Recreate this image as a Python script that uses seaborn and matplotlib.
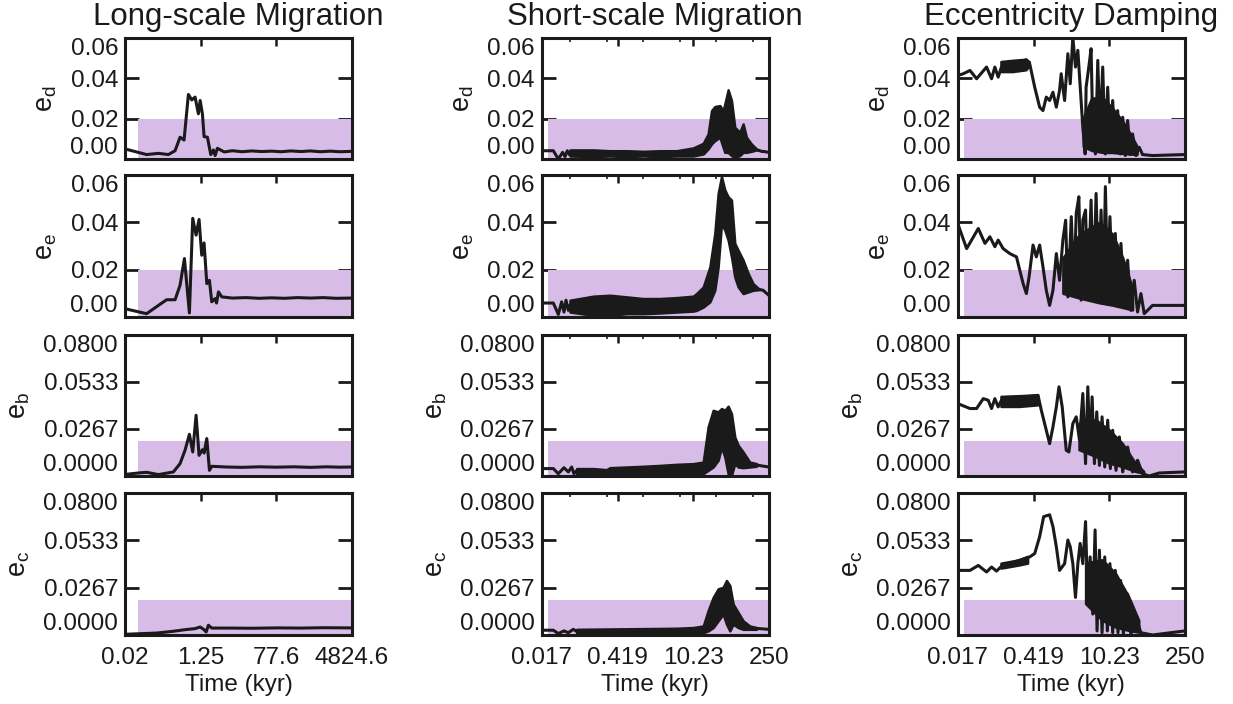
import numpy as np
import matplotlib
matplotlib.use('Agg')
import matplotlib.pyplot as plt
import matplotlib.ticker as mticker
import seaborn as sns

nan = np.nan

titles = ['Long-scale Migration', 'Short-scale Migration', 'Eccentricity Damping']
planets = ['d', 'e', 'b', 'c']
xlims = [(0.02, 4824.6), (0.017, 250), (0.017, 250)]
xtick_vals = [[0.02, 1.25, 77.6, 4824.6], [0.017, 0.419, 10.23, 250], [0.017, 0.419, 10.23, 250]]
xtick_labels = [['0.02', '1.25', '77.6', '4824.6'], ['0.017', '0.419', '10.23', '250'],
                ['0.017', '0.419', '10.23', '250']]
yticks_de = [0.0, 0.02, 0.04, 0.06]
ylabels_de = ['0.00', '0.02', '0.04', '0.06']
yticks_bc = [0.0, 0.0267, 0.0533, 0.08]
ylabels_bc = ['0.0000', '0.0267', '0.0533', '0.0800']
band_start = [0.04, 0.022, 0.022]
band_top = 0.02

# ---- long-scale migration ----
t_long_d = [0.020, 0.065, 0.124, 0.214, 0.308, 0.404, 0.503, 0.637, 0.765, 0.918, 1.10, 1.21, 1.37, 1.50,
            1.80, 2.16, 2.50, 2.74, 3.11, 4.5, 7.0, 12, 20, 35, 60, 100, 170, 300, 500, 850, 1500, 2500, 4824.6]
e_long_d = [0.0050, 0.0022, 0.0028, 0.0022, 0.0041, 0.0108, 0.0094, 0.0320, 0.0293, 0.0307, 0.0224, 0.0290,
            0.0224, 0.0111, 0.0108, 0.0022, 0.0045, 0.0017, 0.0053, 0.0035, 0.0041, 0.0036, 0.0040, 0.0037,
            0.0039, 0.0036, 0.0040, 0.0037, 0.0040, 0.0036, 0.0039, 0.0036, 0.0038]
t_long_e = [0.020, 0.065, 0.136, 0.195, 0.308, 0.404, 0.513, 0.673, 0.807, 0.97, 1.14, 1.32, 1.50, 1.74,
            2.01, 2.28, 2.74, 2.96, 3.29, 3.94, 7, 15, 30, 60, 120, 250, 500, 1000, 2000, 4824.6]
e_long_e = [0.0035, 0.0014, 0.0054, 0.0073, 0.0073, 0.0134, 0.0247, 0.0017, 0.0417, 0.0346, 0.0412, 0.0261,
            0.0313, 0.0141, 0.0155, 0.0064, 0.0078, 0.0059, 0.0106, 0.0085, 0.0080, 0.0082, 0.0079, 0.0081,
            0.0079, 0.0082, 0.0080, 0.0082, 0.0079, 0.0080]
t_long_b = [0.020, 0.0415, 0.065, 0.124, 0.281, 0.404, 0.531, 0.673, 0.807, 0.97, 1.14, 1.37, 1.50, 1.74,
            2.01, 2.28, 5, 12, 30, 80, 200, 500, 1200, 2500, 4824.6]
e_long_b = [0.0009, 0.0017, 0.0021, 0.0008, 0.0023, 0.0070, 0.0146, 0.0236, 0.0136, 0.0344, 0.0117, 0.0149,
            0.0130, 0.0212, 0.0032, 0.0055, 0.0051, 0.0049, 0.0052, 0.0050, 0.0052, 0.0049, 0.0052, 0.0050,
            0.0051]
t_long_c = [0.020, 0.113, 0.281, 0.531, 0.918, 1.21, 1.50, 1.68, 1.90, 2.28, 6, 20, 80, 300, 1000, 4824.6]
e_long_c = [0.0004, 0.0011, 0.0021, 0.0030, 0.0036, 0.0045, 0.0030, 0.0017, 0.0055, 0.0039, 0.0039, 0.0038,
            0.0040, 0.0039, 0.0041, 0.0040]

# ---- short-scale migration (line = head + tail, dense part as envelope) ----
t_short_d = [0.0170, 0.0278, 0.0343, 0.0412, 0.0455, 0.0502, 0.0547, 0.0562, 197, 250]
e_short_d = [0.0041, 0.0041, 0.0, 0.0033, 0.0012, 0.0041, 0.0022, 0.0030, 0.0038, 0.0033]
tb_short_d = [0.0562, 0.151, 0.304, 0.615, 1.24, 2.51, 5.08, 10.3, 15.7, 19.3, 22.3, 25.6, 31.7, 36.4, 39.1,
              45.0, 51.8, 59.6, 73.6, 84.8, 97.5, 120, 149, 197]
lo_short_d = [0.0015, 0.0012, 0.0015, 0.0012, 0.0015, 0.0012, 0.0015, 0.0015, 0.0025, 0.0050, 0.0075, 0.0091,
              0.0108, 0.0058, 0.0033, 0.0033, 0.0017, 0.0008, 0.0017, 0.0033, 0.0033, 0.0038, 0.0045, 0.0038]
hi_short_d = [0.0045, 0.0045, 0.0041, 0.0041, 0.0038, 0.0041, 0.0041, 0.0055, 0.0078, 0.0124, 0.0240, 0.0260,
              0.0265, 0.0240, 0.0273, 0.0343, 0.0290, 0.0157, 0.0133, 0.0174, 0.0108, 0.0075, 0.0050, 0.0038]

t_short_e = [0.0170, 0.0278, 0.0343, 0.0395, 0.0436, 0.0475, 0.0524, 0.0562, 171, 197, 250]
e_short_e = [0.0059, 0.0059, 0.0011, 0.0064, 0.0021, 0.0071, 0.0028, 0.0050, 0.0116, 0.0113, 0.0092]
tb_short_e = [0.0562, 0.151, 0.304, 0.615, 1.24, 2.51, 5.08, 10.3, 11.8, 15.7, 20.8, 25.6, 29.5, 34.0, 39.1,
              45.0, 51.8, 59.6, 68.7, 84.8, 105, 129, 171]
lo_short_e = [0.0021, 0.0007, 0.0007, 0.0014, 0.0014, 0.0017, 0.0021, 0.0025, 0.0028, 0.0042, 0.0064, 0.0113,
              0.0212, 0.0395, 0.0367, 0.0325, 0.0254, 0.0169, 0.0127, 0.0099, 0.0106, 0.0113, 0.0116]
hi_short_e = [0.0071, 0.0088, 0.0092, 0.0085, 0.0078, 0.0078, 0.0082, 0.0088, 0.0099, 0.0127, 0.0212, 0.0353,
              0.0522, 0.0593, 0.0537, 0.0508, 0.0494, 0.0311, 0.0282, 0.0240, 0.0184, 0.0141, 0.0116]

t_short_b = [0.0170, 0.0278, 0.0343, 0.0436, 0.0524, 0.0603, 0.0665, 0.0745, 149, 250]
e_short_b = [0.0042, 0.0042, 0.0013, 0.0047, 0.0023, 0.0051, 0.0013, 0.0030, 0.0062, 0.0051]
tb_short_b = [0.0745, 0.151, 0.264, 0.304, 0.615, 1.24, 2.51, 5.08, 10.3, 15.7, 19.3, 23.9, 29.5, 34.0, 39.1,
              45.0, 51.8, 59.6, 68.7, 84.8, 112, 149]
lo_short_b = [0.0013, 0.0009, 0.0, 0.0009, 0.0009, 0.0013, 0.0013, 0.0013, 0.0013, 0.0013, 0.0032, 0.0051,
              0.0089, 0.0164, 0.0108, 0.0013, 0.0004, 0.0070, 0.0051, 0.0047, 0.0051, 0.0055]
hi_short_b = [0.0042, 0.0042, 0.0036, 0.0047, 0.0051, 0.0055, 0.0060, 0.0066, 0.0070, 0.0079, 0.0278, 0.0372,
              0.0363, 0.0382, 0.0372, 0.0395, 0.0353, 0.0221, 0.0174, 0.0136, 0.0079, 0.0070]

t_short_c = [0.0170, 0.0278, 0.0343, 0.0436, 0.0524, 0.0647, 0.0745, 149, 250]
e_short_c = [0.0027, 0.0027, 0.0008, 0.0023, 0.0013, 0.0032, 0.0020, 0.0037, 0.0032]
tb_short_c = [0.0745, 0.304, 1.24, 5.08, 10.3, 15.7, 19.3, 23.9, 29.5, 36.4, 42.0, 48.3, 55.6, 68.7, 84.8,
              112, 149]
lo_short_c = [0.0008, 0.0008, 0.0011, 0.0013, 0.0013, 0.0013, 0.0023, 0.0042, 0.0080, 0.0118, 0.0061, 0.0023,
              0.0061, 0.0042, 0.0032, 0.0032, 0.0032]
hi_short_c = [0.0032, 0.0034, 0.0036, 0.0038, 0.0042, 0.0051, 0.0137, 0.0212, 0.0260, 0.0269, 0.0307, 0.0279,
              0.0174, 0.0127, 0.0080, 0.0051, 0.0042]

# ---- eccentricity damping ----
t_damp_d = [0.0170, 0.0216, 0.0286, 0.0378, 0.0576, 0.0711, 0.0818, 0.0941, 0.108, 0.310, 0.357, 0.441, 0.543,
            0.625, 0.719, 0.828, 0.953, 1.10, 1.26, 1.35, 1.56, 1.79, 1.98, 2.21, 2.47, 2.73, 3.37, 3.72, 3.87,
            4.34, 4.78, 5.13, 5.74, 6.34, 6.98, 7.81, 8.74, 9.64, 10.6, 11.9, 13.3, 14.7, 16.4, 18.2, 20.3,
            22.4, 25.1, 27.6, 31.8, 36.6, 42.1, 64.1, 250]
e_damp_d = [0.0414, 0.0423, 0.0439, 0.0398, 0.0456, 0.0398, 0.0456, 0.0406, 0.0456, 0.0492, 0.0472, 0.0356,
            0.0257, 0.0240, 0.0307, 0.0290, 0.0331, 0.0257, 0.0340, 0.0423, 0.0290, 0.0522, 0.0373, 0.0605,
            0.0456, 0.0539, 0.0157, 0.0025, 0.0356, 0.0456, 0.0547, 0.0157, 0.0025, 0.0489, 0.0124, 0.0456,
            0.0025, 0.0356, 0.0075, 0.0290, 0.0033, 0.0240, 0.0025, 0.0207, 0.0017, 0.0191, 0.0022, 0.0124,
            0.0017, 0.0058, 0.0022, 0.0017, 0.0022]
tb_damp_d = [0.108, 0.177, 0.310, 0.357, nan, 3.5, 5.0, 8.0, 12.0, 18.0, 26.0, 34.0]
lo_damp_d = [0.0431, 0.0431, 0.0440, 0.0460, nan, 0.0060, 0.0040, 0.0030, 0.0030, 0.0025, 0.0022, 0.0020]
hi_damp_d = [0.0481, 0.0487, 0.0492, 0.0480, nan, 0.0200, 0.0300, 0.0300, 0.0250, 0.0190, 0.0120, 0.0060]

t_damp_e = [0.0170, 0.0248, 0.0406, 0.0538, 0.0663, 0.0818, 0.0941, 0.116, 0.154, 0.204, 0.234, 0.270, 0.310,
            0.347, 0.411, 0.472, 0.543, 0.625, 0.719, 0.828, 0.953, 1.10, 1.26, 1.45, 1.63, 1.79, 2.07, 2.31,
            2.55, 2.85, 3.14, 3.37, 3.78, 4.16, 4.78, 5.27, 5.90, 6.60, 7.29, 8.04, 8.74, 9.64, 10.6, 11.9,
            13.3, 14.7, 16.9, 19.5, 22.4, 25.7, 29.6, 34.1, 39.3, 45.2, 64.1, 250]
e_damp_e = [0.0395, 0.0289, 0.0374, 0.0311, 0.0339, 0.0297, 0.0325, 0.0289, 0.0268, 0.0254, 0.0198, 0.0141,
            0.0099, 0.0169, 0.0304, 0.0254, 0.0304, 0.0212, 0.0113, 0.0049, 0.0113, 0.0268, 0.0155, 0.0325,
            0.0409, 0.0085, 0.0424, 0.0113, 0.0438, 0.0508, 0.0071, 0.0409, 0.0452, 0.0099, 0.0494, 0.0085,
            0.0522, 0.0113, 0.0452, 0.0099, 0.0551, 0.0127, 0.0424, 0.0099, 0.0353, 0.0071, 0.0311, 0.0042,
            0.0240, 0.0028, 0.0155, 0.0021, 0.0099, 0.0014, 0.0049, 0.0049]
tb_damp_e = [1.45, 2.93, 6.79, 11.9, 18.2, 27.6]
lo_damp_e = [0.0100, 0.0080, 0.0060, 0.0050, 0.0040, 0.0030]
hi_damp_e = [0.0250, 0.0350, 0.0400, 0.0350, 0.0250, 0.0120]

t_damp_b = [0.0170, 0.0286, 0.0378, 0.0501, 0.0618, 0.0711, 0.0818, 0.0941, 0.108, 0.507, 0.583, 0.719, 0.828,
            0.953, 1.10, 1.23, 1.41, 1.67, 1.87, 2.21, 2.55, 2.93, 3.37, 3.78, 4.16, 4.59, 4.99, 5.50, 6.07,
            6.79, 7.60, 8.51, 9.64, 10.8, 11.9, 13.7, 15.8, 18.2, 22.4, 27.6, 34.1, 42.1, 55.7, 84.9, 250]
e_damp_b = [0.0410, 0.0382, 0.0382, 0.0438, 0.0429, 0.0382, 0.0438, 0.0391, 0.0429, 0.0457, 0.0372, 0.0259,
            0.0183, 0.0278, 0.0391, 0.0505, 0.0391, 0.0146, 0.0136, 0.0297, 0.0335, 0.0202, 0.0467, 0.0070,
            0.0505, 0.0127, 0.0448, 0.0070, 0.0363, 0.0060, 0.0335, 0.0051, 0.0316, 0.0042, 0.0259, 0.0032,
            0.0221, 0.0023, 0.0164, 0.0023, 0.0089, 0.0013, 0.0, 0.0017, 0.0023]
tb_damp_b = [0.108, 0.234, 0.507, nan, 2.93, 5.90, 10.4, 18.2, 31.8, 45.2]
lo_damp_b = [0.0391, 0.0391, 0.0400, nan, 0.0146, 0.0108, 0.0070, 0.0051, 0.0023, 0.0013]
hi_damp_b = [0.0448, 0.0452, 0.0457, nan, 0.0297, 0.0316, 0.0259, 0.0183, 0.0070, 0.0023]

t_damp_c = [0.0170, 0.0286, 0.0406, 0.0576, 0.0711, 0.0877, 0.108, 0.357, 0.441, 0.543, 0.644, 0.828, 0.953,
            1.10, 1.26, 1.56, 1.79, 1.98, 2.21, 2.47, 2.73, 3.01, 3.37, 3.78, 4.16, 4.59, 5.13, 5.66, 6.15,
            6.79, 7.60, 8.51, 9.51, 10.6, 11.9, 13.3, 14.9, 16.7, 18.7, 22.4, 25.7, 31.8, 39.3, 64.1, 250]
e_damp_c = [0.0364, 0.0364, 0.0392, 0.0355, 0.0383, 0.0360, 0.0387, 0.0440, 0.0459, 0.0554, 0.0667, 0.0677,
            0.0611, 0.0497, 0.0364, 0.0402, 0.0535, 0.0497, 0.0402, 0.0212, 0.0402, 0.0516, 0.0402, 0.0639,
            0.0174, 0.0440, 0.0118, 0.0592, 0.0023, 0.0478, 0.0013, 0.0440, 0.0023, 0.0402, 0.0013, 0.0364,
            0.0013, 0.0307, 0.0008, 0.0231, 0.0004, 0.0099, 0.0013, 0.0, 0.0023]
tb_damp_c = [0.108, 0.234, 0.333, nan, 3.87, 7.81, 13.7, 24.0, 36.6]
lo_damp_c = [0.0374, 0.0392, 0.0402, nan, 0.0174, 0.0080, 0.0042, 0.0023, 0.0013]
hi_damp_c = [0.0402, 0.0421, 0.0440, nan, 0.0402, 0.0421, 0.0345, 0.0212, 0.0080]

lines = [
    [(t_long_d, e_long_d), (t_long_e, e_long_e), (t_long_b, e_long_b), (t_long_c, e_long_c)],
    [(t_short_d, e_short_d), (t_short_e, e_short_e), (t_short_b, e_short_b), (t_short_c, e_short_c)],
    [(t_damp_d, e_damp_d), (t_damp_e, e_damp_e), (t_damp_b, e_damp_b), (t_damp_c, e_damp_c)],
]
bands = [
    [None, None, None, None],
    [(tb_short_d, lo_short_d, hi_short_d), (tb_short_e, lo_short_e, hi_short_e),
     (tb_short_b, lo_short_b, hi_short_b), (tb_short_c, lo_short_c, hi_short_c)],
    [(tb_damp_d, lo_damp_d, hi_damp_d), (tb_damp_e, lo_damp_e, hi_damp_e),
     (tb_damp_b, lo_damp_b, hi_damp_b), (tb_damp_c, lo_damp_c, hi_damp_c)],
]

sns.set_theme(style='ticks')
plt.rcParams['font.family'] = ['Liberation Sans', 'DejaVu Sans']
plt.rcParams['mathtext.default'] = 'regular'
plt.rcParams['text.color'] = 'k'
plt.rcParams['axes.labelcolor'] = 'k'

W, H = 1233, 704
fig = plt.figure(figsize=(W / 100, H / 100), dpi=100)

col_left = [125, 541.7, 957.7]
col_width = 227
row_top = [38, 175, 334.7, 493]
row_bottom = [159, 317, 476, 635]
band_color = '#d8bce8'
fs = 17.5

for c in range(3):
    for r in range(4):
        left = col_left[c] / W
        bottom = 1 - row_bottom[r] / H
        height = (row_bottom[r] - row_top[r]) / H
        ax = fig.add_axes([left, bottom, col_width / W, height])
        ax.set_xscale('log')
        ax.set_xlim(*xlims[c])
        ymax = 0.06 if r < 2 else 0.08
        ax.set_ylim(0, ymax)

        ax.fill_between([band_start[c], xlims[c][1]], 0, band_top, color=band_color, lw=0, zorder=1)

        t, e = lines[c][r]
        t = np.array(t)
        e = np.array(e)
        seg = np.zeros(len(t), dtype=int)
        if c == 1:
            seg = (t > bands[c][r][0][0]).astype(int)
        sns.lineplot(x=t, y=e, units=seg, estimator=None, sort=False, ax=ax,
                     color='k', lw=2.2, legend=False, zorder=3)
        if bands[c][r] is not None:
            tb, lo, hi = bands[c][r]
            ax.fill_between(tb, lo, hi, facecolor='k', edgecolor='k', lw=1.8, zorder=3)

        if r < 2:
            ax.yaxis.set_major_locator(mticker.FixedLocator(yticks_de))
            ax.yaxis.set_major_formatter(mticker.FixedFormatter(ylabels_de))
        else:
            ax.yaxis.set_major_locator(mticker.FixedLocator(yticks_bc))
            ax.yaxis.set_major_formatter(mticker.FixedFormatter(ylabels_bc))
        ax.yaxis.set_minor_locator(mticker.NullLocator())

        ax.xaxis.set_major_locator(mticker.FixedLocator(xtick_vals[c]))
        if c == 1:
            ax.xaxis.set_minor_locator(mticker.FixedLocator([0.056, 0.264, 1.24, 5.83, 27.4, 129]))
        else:
            ax.xaxis.set_minor_locator(mticker.LogLocator(base=10, subs=np.arange(2, 10)))
        ax.xaxis.set_minor_formatter(mticker.NullFormatter())
        if r == 3:
            ax.xaxis.set_major_formatter(mticker.FixedFormatter(xtick_labels[c]))
            ax.set_xlabel('Time (kyr)', fontsize=fs, labelpad=3)
        else:
            ax.xaxis.set_major_formatter(mticker.NullFormatter())
            ax.set_xlabel('')

        ax.tick_params(which='both', direction='in', top=True, right=True, labelsize=fs, colors='k')
        ax.tick_params(axis='y', which='major', length=10, width=2.0, pad=5)
        ax.tick_params(axis='x', which='major', length=6, width=1.8, pad=9)
        ax.tick_params(axis='x', which='minor', length=3, width=1.2)
        for sp in ax.spines.values():
            sp.set_linewidth(2.2)
            sp.set_color('k')

        # end labels sit inside the frame, as in the original
        yt = ax.yaxis.get_major_ticks()
        yt[0].label1.set_va('bottom')
        yt[-1].label1.set_va('top')

        ax.set_ylabel(r'$e_{%s}$' % planets[r], fontsize=fs + 2, labelpad=8)
        if r == 0:
            ax.set_title(titles[c], fontsize=22.5, pad=9)

fig.savefig('out.png', dpi=100)
